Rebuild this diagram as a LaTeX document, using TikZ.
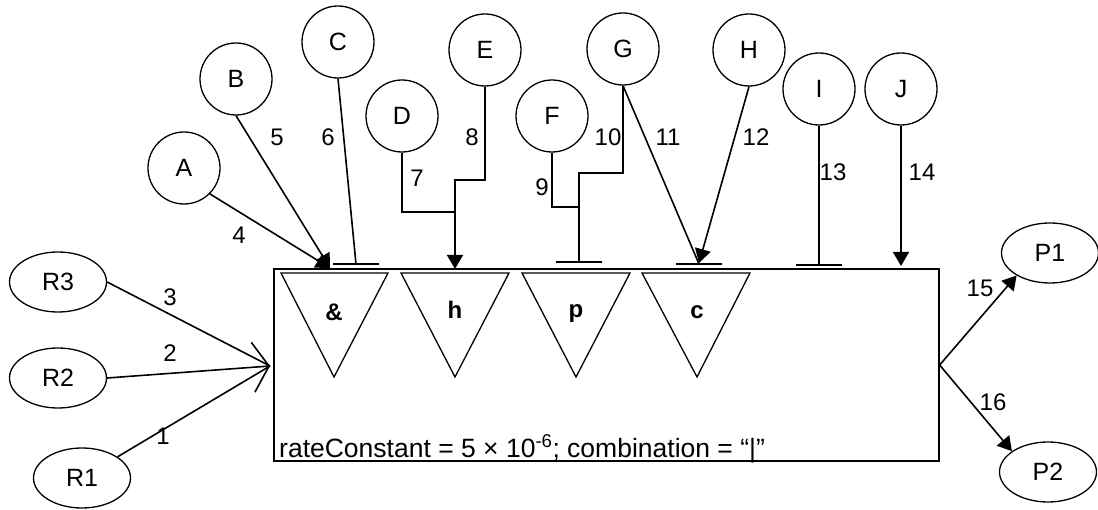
\documentclass[tikz,border=0pt]{standalone}
\usepackage{fontspec}
\setmainfont{Liberation Sans}
\usetikzlibrary{arrows.meta,shapes.geometric}
\begin{document}
\begin{tikzpicture}[x=1pt,y=-1pt,
  every node/.style={font=\fontsize{25}{30}\selectfont},
  species/.style={draw,ellipse,line width=1.3pt,minimum width=97pt,minimum height=60pt,inner sep=0pt},
  modifier/.style={draw,circle,line width=1.3pt,minimum size=72pt,inner sep=0pt},
  link/.style={line width=1.6pt},
  act/.style={link,-{Triangle[length=14pt,width=16pt]}},
  openin/.style={link,-{Straight Barb[length=16pt,width=50pt,line width=1.6pt]}},
  tbar/.style={line width=1.6pt},
  gate/.style={line width=1.3pt,line join=miter},
  num/.style={inner sep=0pt,font=\fontsize{24}{28}\selectfont},
  gatelabel/.style={inner sep=0pt,font=\fontsize{24}{28}\selectfont\bfseries}]
\useasboundingbox (0,0) rectangle (1098,510);

% reaction box
\node[draw,line width=1.3pt,minimum width=665pt,minimum height=192pt,inner sep=0pt] (rxn) at (606.5,365) {};
\node[anchor=base west,inner sep=0pt,font=\fontsize{26.5}{30}\selectfont] (rate) at (279,457)
  {rateConstant = 5 × 10\textsuperscript{-6}; combination = “|”};

% logic gates inside the box
\draw[gate] (281,273) -- (388,273) -- (334,377) -- cycle;
\draw[gate] (401,273) -- (509,273) -- (455,377) -- cycle;
\draw[gate] (522,273) -- (630,273) -- (576,377) -- cycle;
\draw[gate] (642,273) -- (750,273) -- (697,377) -- cycle;
\node[gatelabel] (gand) at (334,312) {\&};
\node[gatelabel] (gh) at (455,310) {h};
\node[gatelabel] (gp) at (576,314) {p};
\node[gatelabel] (gc) at (697,312) {c};

% reactants and products
\node[species] (R3) at (58,282) {R3};
\node[species] (R2) at (58,378) {R2};
\node[species] (R1) at (82,478) {R1};
\node[species] (P1) at (1050,253) {P1};
\node[species] (P2) at (1048,472) {P2};

% modifiers
\node[modifier] (A) at (184,168) {A};
\node[modifier] (B) at (236,79) {B};
\node[modifier] (C) at (338,42) {C};
\node[modifier] (D) at (402,116) {D};
\node[modifier] (E) at (485,50) {E};
\node[modifier] (F) at (552,116) {F};
\node[modifier] (G) at (623,49) {G};
\node[modifier] (H) at (749,50) {H};
\node[modifier] (I) at (819,89) {I};
\node[modifier] (J) at (901,89) {J};

% connector end points
\coordinate (rin) at (270,366);
\coordinate (andin) at (330,268);
\coordinate (andbar) at (356,264);
\coordinate (hin) at (455,269);
\coordinate (ebend) at (455,180);
\coordinate (dmeet) at (455,212);
\coordinate (pbar) at (579,262);
\coordinate (gbend) at (579,173);
\coordinate (fmeet) at (579,207);
\coordinate (cbar) at (699,264);
\coordinate (cin) at (699,263);
\coordinate (ibar) at (819,265);
\coordinate (jin) at (901,266);

% reactant edges
\draw[link] (R3.east) -- (rin);
\draw[openin] (R2.east) -- (rin);
\draw[link] (R1) -- (rin);
\node[num] (n3) at (170,297) {3};
\node[num] (n2) at (170,353) {2};
\node[num] (n1) at (163,436) {1};

% modifier edges
\draw[act] (A.south east) -- (andin);
\draw[act] (B.south) -- (andin);
\draw[tbar] (C.south) -- (andbar);
\draw[tbar] (andbar) ++(-23,0) -- ++(46,0);
\draw[link] (D.south) |- (dmeet);
\draw[act] (E.south) |- (ebend) -- (hin);
\draw[link] (F.south) |- (fmeet);
\draw[tbar] (G.south) |- (gbend) -- (pbar);
\draw[tbar] (pbar) ++(-23,0) -- ++(46,0);
\draw[tbar] (G.south) -- (cbar);
\draw[tbar] (cbar) ++(-23,0) -- ++(46,0);
\draw[act] (H.south) -- (cin);
\draw[tbar] (I.south) -- (ibar);
\draw[tbar] (ibar) ++(-23,0) -- ++(46,0);
\draw[act] (J.south) -- (jin);

\node[num] (n4) at (239,235) {4};
\node[num] (n5) at (277,137) {5};
\node[num] (n6) at (328,137) {6};
\node[num] (n7) at (417,178) {7};
\node[num] (n8) at (472,137) {8};
\node[num] (n9) at (542,187) {9};
\node[num] (n10) at (608,137) {10};
\node[num] (n11) at (668,137) {11};
\node[num] (n12) at (756,137) {12};
\node[num] (n13) at (833,172) {13};
\node[num] (n14) at (922,172) {14};

% product edges
\draw[act] (rxn.east) -- (P1.214);
\draw[act] (rxn.east) -- (P2.150);
\node[num] (n15) at (980,288) {15};
\node[num] (n16) at (993,402) {16};
\end{tikzpicture}
\end{document}
